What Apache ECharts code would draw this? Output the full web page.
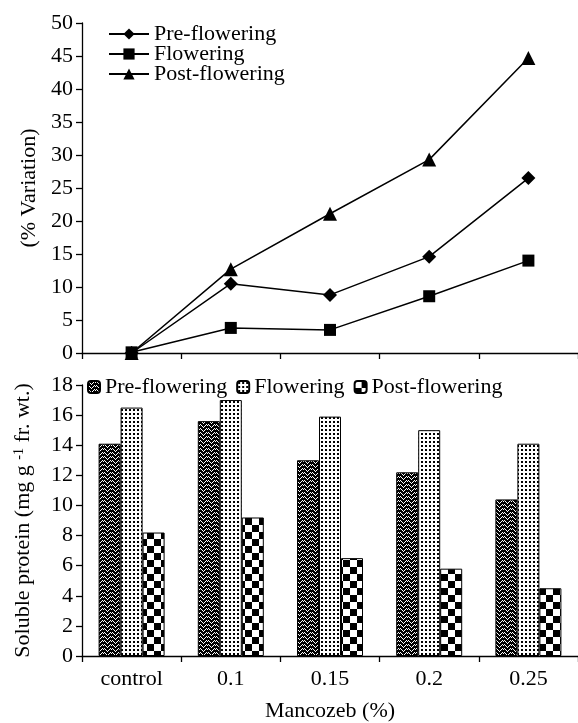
<!DOCTYPE html>
<html>
<head>
<meta charset="utf-8">
<script src="https://cdn.jsdelivr.net/npm/echarts@6/dist/echarts.min.js"></script>
<style>
html,body{margin:0;padding:0;background:#fff;}
#chart{width:578px;height:723px;}
</style>
</head>
<body>
<div id="chart"></div>
<script>
// ---- data ----
const categories = ['control', '0.1', '0.15', '0.2', '0.25'];
const stageNames = ['Pre-flowering', 'Flowering', 'Post-flowering'];
const preVariation = [0, 10.5, 8.8, 14.6, 26.5];
const floVariation = [0.1, 3.8, 3.5, 8.6, 14.0];
const postVariation = [0, 12.7, 21.1, 29.3, 44.7];
const preProtein = [14.1, 15.6, 13.0, 12.2, 10.4];
const floProtein = [16.5, 17.0, 15.9, 15.0, 14.1];
const postProtein = [8.2, 9.2, 6.5, 5.8, 4.5];
const variationTicks = { min: 0, max: 50, interval: 5 };
const proteinTicks = { min: 0, max: 18, interval: 2 };

// ---- patterns ----
function makeCanvas(w, h) {
  const c = document.createElement('canvas');
  c.width = w; c.height = h;
  return c;
}
function chevronPattern() {
  const c = makeCanvas(8, 8), g = c.getContext('2d');
  g.fillStyle = '#000'; g.fillRect(0, 0, 8, 8);
  g.fillStyle = '#fff';
  const pts = [[0,0],[1,1],[2,2],[3,3],[4,2],[5,1],[6,0],[7,1],
               [0,4],[1,5],[2,6],[3,7],[4,6],[5,5],[6,4],[7,5]];
  pts.forEach(p => g.fillRect(p[0], p[1], 1, 1));
  return c;
}
function dotPattern() {
  const c = makeCanvas(4, 4), g = c.getContext('2d');
  g.fillStyle = '#fff'; g.fillRect(0, 0, 4, 4);
  g.fillStyle = '#000'; g.fillRect(1, 1, 2, 2);
  return c;
}
function checkerPattern() {
  const c = makeCanvas(14, 14), g = c.getContext('2d');
  g.fillStyle = '#fff'; g.fillRect(0, 0, 14, 14);
  g.fillStyle = '#000'; g.fillRect(7, 0, 7, 7); g.fillRect(0, 7, 7, 7);
  return c;
}
const patterns = [chevronPattern(), dotPattern(), checkerPattern()];

const FONT = 'Liberation Serif';
const txt = { fontFamily: FONT, fontSize: 22, color: '#000' };
const axisLine = { show: true, lineStyle: { color: '#000', width: 1.3 } };
const axisTick = { show: true, inside: false, length: 6, lineStyle: { color: '#000', width: 1.3 } };

const chart = echarts.init(document.getElementById('chart'), null, { renderer: 'canvas' });

const lineData = [preVariation, floVariation, postVariation];
const symbols = ['diamond', 'rect', 'triangle'];
const symbolSizes = [14, 12, 14];
const barData = [preProtein, floProtein, postProtein];

const series = [];
stageNames.forEach((n, i) => {
  series.push({
    name: n, type: 'line', xAxisIndex: 0, yAxisIndex: 0,
    data: lineData[i], symbol: symbols[i], symbolSize: symbolSizes[i],
    lineStyle: { color: '#000', width: 1.5 },
    itemStyle: { color: '#000' },
    z: 3 - i + 2
  });
});
stageNames.forEach((n, i) => {
  series.push({
    name: 'bar:' + n, type: 'bar', xAxisIndex: 1, yAxisIndex: 1,
    data: barData[i], barWidth: 22, barGap: '0%',
    itemStyle: { color: { image: patterns[i], repeat: 'repeat' }, borderColor: '#000', borderWidth: 1 }
  });
});

chart.setOption({
  animation: false,
  backgroundColor: '#fff',
  textStyle: { fontFamily: FONT },
  legend: [
    {
      data: stageNames, orient: 'vertical', left: 103, top: 18,
      itemWidth: 40, itemHeight: 14, itemGap: -2,
      textStyle: Object.assign({}, txt, { lineHeight: 22 })
    },
    {
      data: stageNames.map(n => 'bar:' + n), orient: 'horizontal', left: 82, top: 371,
      itemWidth: 12, itemHeight: 12, itemGap: 9,
      formatter: s => s.replace('bar:', ''),
      textStyle: Object.assign({}, txt, { lineHeight: 22 })
    }
  ],
  grid: [
    { left: 82, right: 0, top: 23, height: 330, containLabel: false },
    { left: 82, right: 0, top: 385, height: 273, containLabel: false }
  ],
  xAxis: [
    {
      gridIndex: 0, type: 'category', data: categories, boundaryGap: true,
      axisLine: axisLine, axisTick: axisTick, axisLabel: { show: false }, splitLine: { show: false }
    },
    {
      gridIndex: 1, type: 'category', data: categories, boundaryGap: true,
      axisLine: axisLine, axisTick: axisTick,
      axisLabel: Object.assign({}, txt, { margin: 12 }),
      splitLine: { show: false },
      name: 'Mancozeb (%)', nameLocation: 'middle', nameGap: 44,
      nameTextStyle: txt
    }
  ],
  yAxis: [
    {
      gridIndex: 0, type: 'value', min: variationTicks.min, max: variationTicks.max, interval: variationTicks.interval,
      axisLine: axisLine, axisTick: axisTick, splitLine: { show: false },
      axisLabel: Object.assign({}, txt, { margin: 9 }),
      name: '(% Variation)', nameLocation: 'middle', nameGap: 38, nameRotate: 90,
      nameTextStyle: txt
    },
    {
      gridIndex: 1, type: 'value', min: proteinTicks.min, max: proteinTicks.max, interval: proteinTicks.interval,
      axisLine: axisLine, axisTick: axisTick, splitLine: { show: false },
      axisLabel: Object.assign({}, txt, { margin: 9 }),
      name: 'Soluble protein (mg g {sup|-1} fr. wt.)', nameLocation: 'middle', nameGap: 48, nameRotate: 90,
      nameTextStyle: Object.assign({}, txt, { rich: { sup: { fontFamily: FONT, fontSize: 14, color: '#000', verticalAlign: 'top', padding: [0, 0, 8, 0] } } })
    }
  ],
  series: series
});
</script>
</body>
</html>
